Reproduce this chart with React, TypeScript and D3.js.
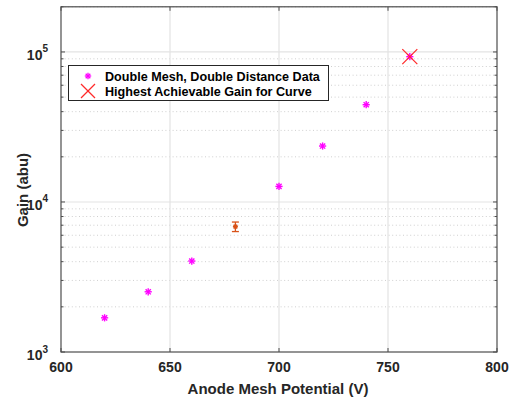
import React from "react";
import * as d3 from "d3";

const voltages = [620, 640, 660, 700, 720, 740, 760];
const gains = [1.69e3, 2.52e3, 4.04e3, 1.27e4, 2.36e4, 4.45e4, 9.3e4];
const errVoltage = [680];
const errGain = [6.85e3];
const errDelta = [0.5e3];
const maxVoltage = [760];
const maxGain = [9.3e4];
const xTicks = [600, 650, 700, 750, 800];
const yMajor = [1e3, 1e4, 1e5];
const yExp = [3, 4, 5];
const legendLabels = ["Double Mesh, Double Distance Data", "Highest Achievable Gain for Curve"];

const W = 513, H = 398;
const L = 61, R = 497, T = 6.8, B = 352;
const FONT = "'Liberation Sans', Arial, Helvetica, sans-serif";

function Star({ cx, cy, r, color, sw = 1.3 }: { cx: number; cy: number; r: number; color: string; sw?: number }) {
  const d = r * 0.72;
  return (
    <g stroke={color} strokeWidth={sw}>
      <line x1={cx - r} y1={cy} x2={cx + r} y2={cy} />
      <line x1={cx} y1={cy - r} x2={cx} y2={cy + r} />
      <line x1={cx - d} y1={cy - d} x2={cx + d} y2={cy + d} />
      <line x1={cx - d} y1={cy + d} x2={cx + d} y2={cy - d} />
    </g>
  );
}

function Cross({ cx, cy, r, color }: { cx: number; cy: number; r: number; color: string }) {
  return (
    <g stroke={color} strokeWidth={1.2}>
      <line x1={cx - r} y1={cy - r} x2={cx + r} y2={cy + r} />
      <line x1={cx - r} y1={cy + r} x2={cx + r} y2={cy - r} />
    </g>
  );
}

export default function App() {
  const x = d3.scaleLinear().domain([600, 800]).range([L, R]);
  const y = d3.scaleLog().domain([1e3, 2e5]).range([B, T]);

  const minor: number[] = [];
  for (const base of [1e3, 1e4, 1e5]) {
    for (let k = 2; k <= 9; k++) {
      const v = base * k;
      if (v <= 2e5) minor.push(v);
    }
  }

  const axisColor = "#4d4d4d";

  return (
    <svg width={W} height={H} style={{ position: "absolute", left: 0, top: 0, background: "#fff" }} fontFamily={FONT}>
      <rect x={0} y={0} width={W} height={H} fill="#fff" />
      {/* minor grid */}
      {minor.map((v, i) => (
        <line key={"mg" + i} x1={L} x2={R} y1={y(v)} y2={y(v)} stroke="#cfcfcf" strokeWidth={1} strokeDasharray="1,2.6" />
      ))}
      {/* major grid */}
      {yMajor.slice(1).map((v, i) => (
        <line key={"yg" + i} x1={L} x2={R} y1={y(v)} y2={y(v)} stroke="#e3e3e3" strokeWidth={1.2} />
      ))}
      {xTicks.slice(1, -1).map((v, i) => (
        <line key={"xg" + i} x1={x(v)} x2={x(v)} y1={T} y2={B} stroke="#e3e3e3" strokeWidth={1.2} />
      ))}
      {/* ticks */}
      {xTicks.map((v, i) => (
        <g key={"xt" + i} stroke={axisColor} strokeWidth={1}>
          <line x1={x(v)} x2={x(v)} y1={B} y2={B - 4} />
          <line x1={x(v)} x2={x(v)} y1={T} y2={T + 4} />
        </g>
      ))}
      {yMajor.map((v, i) => (
        <g key={"yt" + i} stroke={axisColor} strokeWidth={1}>
          <line x1={L} x2={L + 4} y1={y(v)} y2={y(v)} />
          <line x1={R} x2={R - 4} y1={y(v)} y2={y(v)} />
        </g>
      ))}
      {minor.map((v, i) => (
        <g key={"ymt" + i} stroke={axisColor} strokeWidth={1}>
          <line x1={L} x2={L + 2.5} y1={y(v)} y2={y(v)} />
          <line x1={R} x2={R - 2.5} y1={y(v)} y2={y(v)} />
        </g>
      ))}
      {/* axes box */}
      <rect x={L} y={T} width={R - L} height={B - T} fill="none" stroke={axisColor} strokeWidth={1.2} />

      {/* error bar */}
      {errVoltage.map((v, i) => {
        const cx = x(v);
        const y1 = y(errGain[i] + errDelta[i]);
        const y2 = y(errGain[i] - errDelta[i]);
        const c = "#D95319";
        return (
          <g key={"eb" + i} stroke={c} strokeWidth={1.3}>
            <line x1={cx} x2={cx} y1={y1} y2={y2} />
            <line x1={cx - 3.5} x2={cx + 3.5} y1={y1} y2={y1} />
            <line x1={cx - 3.5} x2={cx + 3.5} y1={y2} y2={y2} />
            <Star cx={cx} cy={y(errGain[i])} r={2.5} color={c} sw={1.5} />
          </g>
        );
      })}

      {/* data stars */}
      {voltages.map((v, i) => (
        <Star key={"s" + i} cx={x(v)} cy={y(gains[i])} r={3.6} color="#ff00ff" sw={1.4} />
      ))}
      {/* max cross */}
      {maxVoltage.map((v, i) => (
        <Cross key={"c" + i} cx={x(v)} cy={y(maxGain[i])} r={7.5} color="#ff2a2a" />
      ))}

      {/* x tick labels */}
      {xTicks.map((v, i) => (
        <text key={"xl" + i} x={x(v)} y={372} textAnchor="middle" fontSize={14} fontWeight="bold" fill="#262626">
          {v}
        </text>
      ))}
      {/* y tick labels */}
      {yMajor.map((v, i) => (
        <text key={"yl" + i} x={L - 13} y={y(v) + 8} textAnchor="end" fontSize={14} fontWeight="bold" fill="#262626">
          10
          <tspan fontSize={10} dy={-7.5}>{yExp[i]}</tspan>
        </text>
      ))}
      {/* axis titles */}
      <text x={278} y={393.5} textAnchor="middle" fontSize={15} fontWeight="bold" fill="#262626">
        Anode Mesh Potential (V)
      </text>
      <text transform={`translate(27.5,190) rotate(-90)`} textAnchor="middle" fontSize={15} fontWeight="bold" fill="#262626">
        Gain (abu)
      </text>

      {/* legend */}
      <g>
        <rect x={68.5} y={65.5} width={260} height={35} fill="#fff" stroke="#262626" strokeWidth={1} />
        <Star cx={88} cy={76} r={3.2} color="#ff00ff" />
        <Cross cx={88} cy={91} r={7} color="#ff2a2a" />
        <text x={105} y={80.5} fontSize={12.6} fontWeight="bold" fill="#000">{legendLabels[0]}</text>
        <text x={105} y={96} fontSize={12.6} fontWeight="bold" fill="#000">{legendLabels[1]}</text>
      </g>
    </svg>
  );
}
